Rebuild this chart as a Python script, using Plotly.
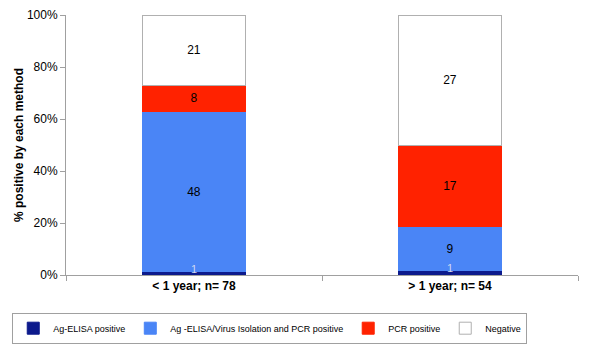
import plotly.graph_objects as go

categories = ["< 1 year; n= 78", "> 1 year; n= 54"]
series_names = ["Ag-ELISA positive", "Ag -ELISA/Virus Isolation and PCR positive", "PCR positive", "Negative"]
ag_elisa = [1, 1]
ag_virus_pcr = [48, 9]
pcr = [8, 17]
negative = [21, 27]
y_ticks = [0, 20, 40, 60, 80, 100]

series = [ag_elisa, ag_virus_pcr, pcr, negative]
colors = ["#0c1a8c", "#4a85f6", "#ff2200", "#ffffff"]
line_colors = ["#0c1a8c", "#4a85f6", "#ff2200", "#b0b0b0"]
text_colors = ["#cccccc", "black", "black", "black"]

totals = [sum(s[i] for s in series) for i in range(len(categories))]

fig = go.Figure()
for idx, (name, vals, c, lc, tc) in enumerate(zip(series_names, series, colors, line_colors, text_colors)):
    fig.add_trace(go.Bar(
        x=categories, y=vals, name=name,
        marker=dict(color=c, line=dict(color=lc, width=1)),
        text=[str(v) for v in vals] if idx > 0 else None,
        textposition="inside" if idx > 0 else "none", textangle=0,
        insidetextanchor="middle", constraintext="none",
        textfont=dict(family="Arial", size=12, color=tc),
        hoverinfo="skip",
    ))

# small labels for the thin first segment
fig.add_trace(go.Scatter(
    x=categories, y=[v / t * 100 / 2 + 1.2 for v, t in zip(ag_elisa, totals)],
    mode="text", text=[str(v) for v in ag_elisa],
    textfont=dict(family="Arial", size=11, color="#d0d8f0"),
    showlegend=False, hoverinfo="skip", cliponaxis=True,
))

fig.update_layout(
    barmode="stack", barnorm="percent", bargap=0.6,
    width=600, height=347,
    margin=dict(l=66, r=22, t=15, b=72, autoexpand=False),
    paper_bgcolor="white", plot_bgcolor="white",
    font=dict(family="Arial", size=12, color="black"),
    showlegend=True,
    legend=dict(orientation="h", x=-0.105, xanchor="left", y=-0.145, yanchor="top",
                bordercolor="#a0a0a0", borderwidth=1, font=dict(size=9, family="Arial"),
                traceorder="normal", itemwidth=30, tracegroupgap=0),
    xaxis=dict(showline=True, linecolor="#a0a0a0", ticks="outside", tickson="boundaries",
               tickcolor="#a0a0a0", ticklen=5, tickfont=dict(size=12, family="Arial"),
               tickvals=categories, ticktext=["<b>" + c + "</b>" for c in categories],
               showgrid=False),
    yaxis=dict(range=[0, 100], tickvals=y_ticks, ticktext=[f"{v}%" for v in y_ticks],
               showline=True, linecolor="#a0a0a0",
               ticks="outside", tickcolor="#a0a0a0", ticklen=5, showgrid=False, zeroline=False,
               tickfont=dict(size=12),
               title=dict(text="<b>% positive by each method</b>", font=dict(size=12), standoff=0)),
)

fig.write_html("out.html")
